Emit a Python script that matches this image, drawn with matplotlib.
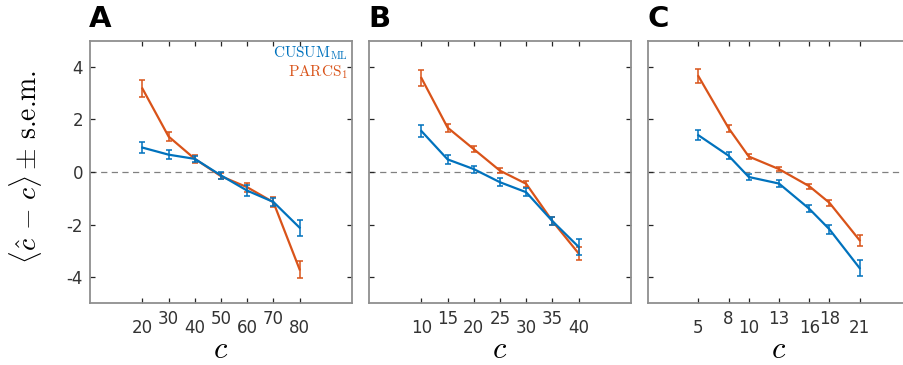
import numpy as np
import matplotlib
matplotlib.use("Agg")
import matplotlib.pyplot as plt

plt.rcParams['mathtext.fontset'] = 'cm'
plt.rcParams['axes.unicode_minus'] = False
plt.rcParams['font.family'] = 'DejaVu Sans'

# Panel A
c_a = [20, 30, 40, 50, 60, 70, 80]
cusum_a = [0.93, 0.66, 0.50, -0.13, -0.71, -1.14, -2.12]
cusum_a_err = [0.22, 0.17, 0.12, 0.12, 0.20, 0.15, 0.31]
parcs_a = [3.18, 1.35, 0.50, -0.16, -0.58, -1.15, -3.71]
parcs_a_err = [0.33, 0.18, 0.15, 0.12, 0.18, 0.18, 0.33]

# Panel B
c_b = [10, 15, 20, 25, 30, 35, 40]
cusum_b = [1.56, 0.48, 0.11, -0.39, -0.77, -1.87, -2.85]
cusum_b_err = [0.23, 0.18, 0.13, 0.15, 0.16, 0.16, 0.30]
parcs_b = [3.58, 1.69, 0.87, 0.05, -0.45, -1.87, -3.10]
parcs_b_err = [0.30, 0.15, 0.12, 0.10, 0.12, 0.15, 0.25]

# Panel C
c_c = [5, 8, 10, 13, 16, 18, 21]
cusum_c = [1.40, 0.62, -0.19, -0.44, -1.40, -2.18, -3.66]
cusum_c_err = [0.20, 0.13, 0.12, 0.12, 0.13, 0.17, 0.31]
parcs_c = [3.65, 1.67, 0.59, 0.11, -0.54, -1.17, -2.60]
parcs_c_err = [0.27, 0.13, 0.10, 0.08, 0.10, 0.12, 0.20]

panels = [
    ('A', c_a, cusum_a, cusum_a_err, parcs_a, parcs_a_err, 100),
    ('B', c_b, cusum_b, cusum_b_err, parcs_b, parcs_b_err, 50),
    ('C', c_c, cusum_c, cusum_c_err, parcs_c, parcs_c_err, 26),
]

blue = '#0072BD'
orange = '#D95319'
W, H = 904, 365

fig = plt.figure(figsize=(W / 100, H / 100), dpi=100)
lefts = [90, 369, 648]

for i, (letter, c, cu, cu_e, pa, pa_e, xmax) in enumerate(panels):
    ax = fig.add_axes([lefts[i] / W, (H - 303.3) / H, 262 / W, 262.6 / H])
    ax.axhline(0, color='#808080', ls=(0, (5, 3.5)), lw=0.9, zorder=1)
    ax.errorbar(c, cu, yerr=cu_e, color=blue, lw=1.6, elinewidth=1.1,
                capsize=2.2, capthick=1.1, zorder=3)
    ax.errorbar(c, pa, yerr=pa_e, color=orange, lw=1.6, elinewidth=1.1,
                capsize=2.2, capthick=1.1, zorder=2)
    ax.set_xlim(0, xmax)
    ax.set_ylim(-5, 5)
    ax.set_yticks([-4, -2, 0, 2, 4])
    if i > 0:
        ax.set_yticklabels([])

    # staggered tick labels: even index low, odd index raised
    ax.set_xticks(c[0::2])
    ax.set_xticklabels([str(v) for v in c[0::2]])
    ax.set_xticks(c[1::2], minor=True)
    ax.set_xticklabels([str(v) for v in c[1::2]], minor=True)
    ax.tick_params(which='both', direction='in', length=3.5, width=0.9,
                   color='#262626', top=True, right=True,
                   labelsize=12, labelcolor='#333333')
    ax.tick_params(axis='x', which='major', pad=11)
    ax.tick_params(axis='x', which='minor', pad=4.5)
    ax.tick_params(axis='y', pad=5)

    for s in ax.spines.values():
        s.set_color('#8f8f8f')
        s.set_linewidth(1.3)

    ax.text(0.5, -0.208, '$c$', transform=ax.transAxes, ha='center',
            va='baseline', fontsize=22)
    ax.text(-0.003, 1.052, letter, transform=ax.transAxes, ha='left',
            va='baseline', fontsize=21, fontweight='bold')

    if i == 0:
        ax.text(0.985, 0.985, r'$\mathrm{CUSUM}_{\mathrm{ML}}$', color=blue,
                transform=ax.transAxes, ha='right', va='top', fontsize=11)
        ax.text(0.985, 0.912, r'$\mathrm{PARCS}_1$', color=orange,
                transform=ax.transAxes, ha='right', va='top', fontsize=11)

fig.text(26 / W, 1 - 167 / H,
         r'$\langle \hat{c}\, - \,c \rangle \pm\,$s.e.m.', family='cmr10',
         rotation=90, ha='center', va='center', fontsize=20)

fig.savefig('out.png', dpi=100)
